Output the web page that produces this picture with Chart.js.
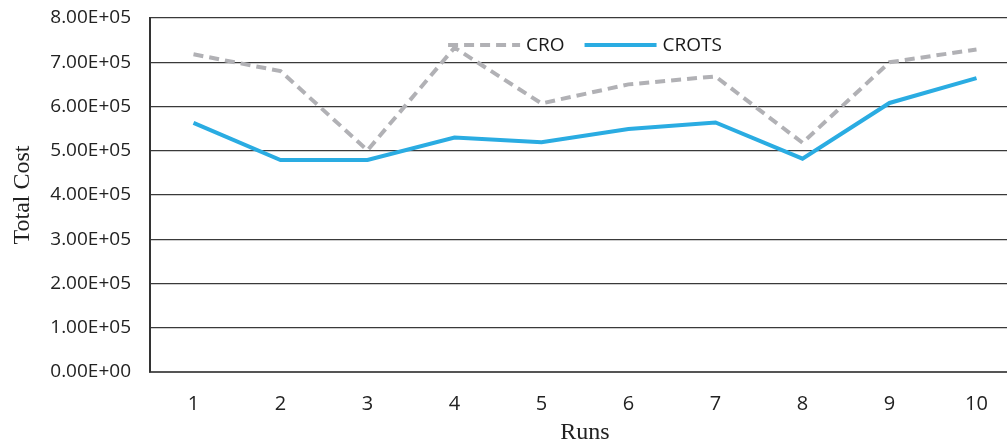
<!DOCTYPE html>
<html>
<head>
<meta charset="utf-8">
<script src="https://cdn.jsdelivr.net/npm/chart.js@4"></script>
<style>
  html, body { margin: 0; padding: 0; background: #fff; overflow: hidden; }
  #wrap { width: 1020px; height: 447px; }
</style>
</head>
<body>
<div id="wrap"><canvas id="runs-chart"></canvas></div>
<script>
const runs = ['1', '2', '3', '4', '5', '6', '7', '8', '9', '10'];
const croCost = [718000, 680000, 501000, 733000, 607000, 650000, 668000, 518000, 700000, 729000];
const crotsCost = [563000, 479000, 479000, 530000, 519000, 549000, 564000, 482000, 608000, 664000];

function sciLabel(v) {
	if (v === 0) return '0.00E+00';
	const parts = Number(v).toExponential(2).split('e');
	const exp = parseInt(parts[1], 10);
	const sign = exp < 0 ? '-' : '+';
	return parts[0] + 'E' + sign + String(Math.abs(exp)).padStart(2, '0');
}

// legend drawn inside the plot, one row, centred
const innerLegend = {
	id: 'innerLegend',
	afterDatasetsDraw(chart) {
		const ctx = chart.ctx;
		const area = chart.chartArea;
		const sets = chart.data.datasets;
		const lineW = 72, gap = 6, itemGap = 20;
		ctx.save();
		ctx.font = '19px "Open Sans"';
		let total = 0;
		sets.forEach((ds, i) => {
			total += lineW + gap + ctx.measureText(ds.label).width;
			if (i > 0) total += itemGap;
		});
		let x = (area.left + area.right) / 2 - total / 2;
		const y = area.top + 27;
		sets.forEach((ds) => {
			ctx.beginPath();
			ctx.setLineDash(ds.borderDash || []);
			ctx.lineWidth = ds.borderWidth;
			ctx.strokeStyle = ds.borderColor;
			ctx.lineCap = 'butt';
			ctx.moveTo(x, y);
			ctx.lineTo(x + lineW, y);
			ctx.stroke();
			ctx.setLineDash([]);
			x += lineW + gap;
			ctx.fillStyle = '#1a1a1a';
			ctx.textBaseline = 'middle';
			ctx.textAlign = 'left';
			ctx.fillText(ds.label, x, y + 1);
			x += ctx.measureText(ds.label).width + itemGap;
		});
		ctx.restore();
	}
};

new Chart(document.getElementById('runs-chart'), {
	type: 'line',
	data: {
		labels: runs,
		datasets: [{
			label: 'CRO',
			data: croCost,
			borderColor: '#b1b1b5',
			backgroundColor: '#b1b1b5',
			borderWidth: 4,
			borderDash: [10, 6],
			pointRadius: 0,
			tension: 0
		}, {
			label: 'CROTS',
			data: crotsCost,
			borderColor: '#2aace2',
			backgroundColor: '#2aace2',
			borderWidth: 4,
			pointRadius: 0,
			tension: 0
		}]
	},
	plugins: [innerLegend],
	options: {
		responsive: true,
		maintainAspectRatio: false,
		animation: false,
		layout: { padding: { top: 0, left: 0, right: 0, bottom: 0 } },
		plugins: {
			tooltip: { enabled: false },
			legend: { display: false }
		},
		scales: {
			x: {
				offset: true,
				afterFit: (s) => { s.height = 75; },
				grid: { display: false, drawTicks: false },
				border: { display: true, color: '#555', width: 2 },
				ticks: {
					padding: 20,
					color: '#222',
					font: { family: 'Open Sans', size: 20 }
				},
				title: {
					display: true,
					text: 'Runs',
					color: '#222',
					padding: 0,
					font: { family: 'Liberation Serif', size: 24 }
				}
			},
			y: {
				min: 0,
				max: 800000,
				afterFit: (s) => { s.width = 150; s.paddingTop = 18; s.paddingBottom = 0; },
				grid: { color: '#3a3a3a', lineWidth: 1.2, drawTicks: false },
				border: { display: true, color: '#333', width: 2 },
				ticks: {
					stepSize: 100000,
					padding: 19,
					color: '#222',
					font: { family: 'Open Sans', size: 19 },
					callback: (v) => sciLabel(v)
				},
				title: {
					display: true,
					text: 'Total Cost',
					color: '#222',
					padding: { top: 8, bottom: 0 },
					font: { family: 'Liberation Serif', size: 24 }
				}
			}
		}
	}
});
</script>
</body>
</html>
